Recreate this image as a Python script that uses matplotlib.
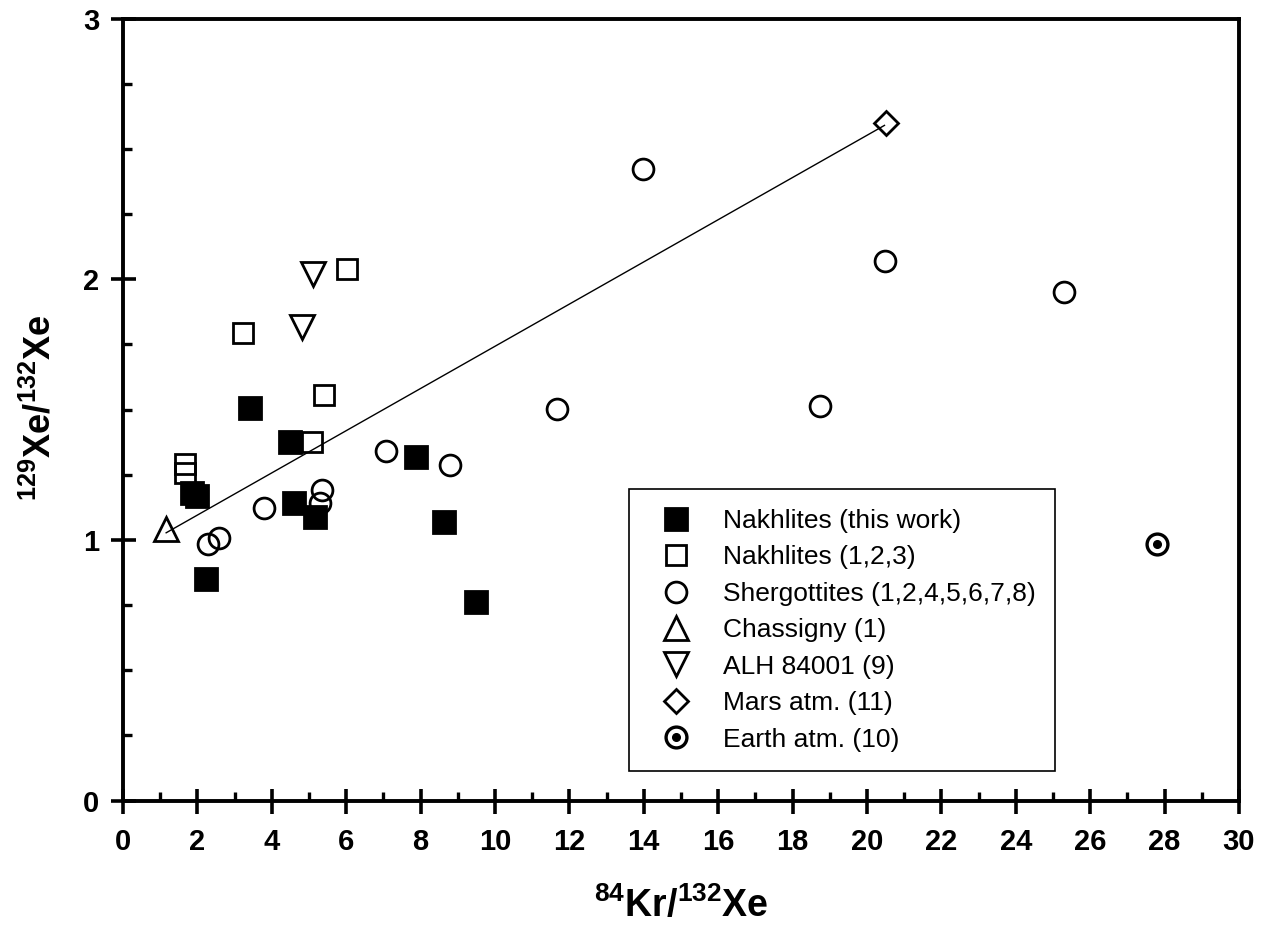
import matplotlib
matplotlib.use('Agg')
import matplotlib.pyplot as plt
from matplotlib import font_manager
from matplotlib.ticker import MultipleLocator

# ---- data ----
nak_this_x = [3.42, 4.50, 1.85, 1.98, 4.59, 5.15, 7.88, 8.62, 2.24, 9.50]
nak_this_y = [1.504, 1.376, 1.178, 1.168, 1.140, 1.089, 1.319, 1.069, 0.848, 0.760]

nak_lit_x = [6.02, 3.23, 5.40, 5.08, 1.66, 1.66]
nak_lit_y = [2.039, 1.792, 1.555, 1.376, 1.290, 1.258]

sherg_x = [7.08, 8.78, 5.35, 5.29, 3.80, 2.57, 2.28, 13.99, 20.49, 11.67, 18.74, 25.30]
sherg_y = [1.342, 1.287, 1.191, 1.140, 1.121, 1.006, 0.984, 2.422, 2.071, 1.502, 1.514, 1.949]

chass_x = [1.16]
chass_y = [1.04]

alh_x = [5.11, 4.81]
alh_y = [2.02, 1.817]

mars_x = [20.51]
mars_y = [2.598]

earth_x = [27.80]
earth_y = [0.984]

trend_x = [1.16, 20.47]
trend_y = [1.027, 2.59]

labels = ['Nakhlites (this work)', 'Nakhlites (1,2,3)', 'Shergottites (1,2,4,5,6,7,8)',
          'Chassigny (1)', 'ALH 84001 (9)', 'Mars atm. (11)', 'Earth atm. (10)']

# ---- fonts ----
installed = {f.name for f in font_manager.fontManager.ttflist}
narrow = 'Liberation Sans Narrow' if 'Liberation Sans Narrow' in installed else 'Liberation Sans'
plt.rcParams['font.family'] = ['Liberation Sans', 'DejaVu Sans']
plt.rcParams['mathtext.fontset'] = 'custom'
plt.rcParams['mathtext.rm'] = narrow + ':bold'
plt.rcParams['mathtext.bf'] = narrow + ':bold'

fig = plt.figure(figsize=(12.62, 9.34), dpi=100)
ax = fig.add_axes([123 / 1262, 1 - 800.5 / 934, 1116 / 1262, 782 / 934])

# trend line (drawn first, markers are unfilled)
ax.plot(trend_x, trend_y, color='black', linewidth=1.0, zorder=2)

mew = 2.0
h1, = ax.plot(nak_this_x, nak_this_y, 's', ms=15.5, color='black', mec='black', mew=mew, ls='none', zorder=3)
h2, = ax.plot(nak_lit_x, nak_lit_y, 's', ms=15, mfc='none', mec='black', mew=mew, ls='none', zorder=3)
h3, = ax.plot(sherg_x, sherg_y, 'o', ms=15, mfc='none', mec='black', mew=mew, ls='none', zorder=3)
h4, = ax.plot(chass_x, chass_y, '^', ms=17, mfc='none', mec='black', mew=mew, ls='none', zorder=3)
h5, = ax.plot(alh_x, alh_y, 'v', ms=17, mfc='none', mec='black', mew=mew, ls='none', zorder=3)
h6, = ax.plot(mars_x, mars_y, 'D', ms=12.5, mfc='none', mec='black', mew=mew, ls='none', zorder=3)
h7a, = ax.plot(earth_x, earth_y, 'o', ms=15, mfc='none', mec='black', mew=mew + 0.4, ls='none', zorder=3)
h7b, = ax.plot(earth_x, earth_y, 'o', ms=5.5, color='black', ls='none', zorder=4)

ax.set_xlim(0, 30)
ax.set_ylim(0, 3)

ax.xaxis.set_major_locator(MultipleLocator(2))
ax.xaxis.set_minor_locator(MultipleLocator(1))
ax.yaxis.set_major_locator(MultipleLocator(1))
ax.yaxis.set_minor_locator(MultipleLocator(0.25))

ax.tick_params(axis='both', which='major', direction='inout', length=18, width=2.6,
               labelsize=21, top=False, right=False)
ax.tick_params(axis='both', which='minor', direction='in', length=6.5, width=2.4,
               top=False, right=False)
ax.tick_params(axis='x', which='major', pad=11)
ax.tick_params(axis='y', which='major', pad=8)
for lab in ax.get_xticklabels() + ax.get_yticklabels():
    lab.set_family([narrow, 'Liberation Sans'])
    lab.set_fontweight('bold')

for sp in ax.spines.values():
    sp.set_linewidth(2.8)

# axis titles
fig.text(681 / 1262, 1 - 906 / 934, r'$^{84}$Kr/$^{132}$Xe', ha='center', va='center',
         fontsize=27, fontweight='bold', family=[narrow, 'Liberation Sans'])
fig.text(40 / 1262, 1 - 408 / 934, r'$^{129}$Xe/$^{132}$Xe', ha='center', va='center',
         rotation=90, fontsize=26, fontweight='bold', family=[narrow, 'Liberation Sans'])

leg = ax.legend([h1, h2, h3, h4, h5, h6, (h7a, h7b)], labels,
                loc='upper left', bbox_to_anchor=(506 / 1116, (800.5 - 489.3) / 782),
                borderaxespad=0, fontsize=19, frameon=True, fancybox=False,
                edgecolor='black', framealpha=1, labelspacing=0.47,
                handlelength=2.06, handletextpad=0.75, borderpad=0.75)
leg.get_frame().set_linewidth(1.2)

fig.savefig('out.png', dpi=100)
